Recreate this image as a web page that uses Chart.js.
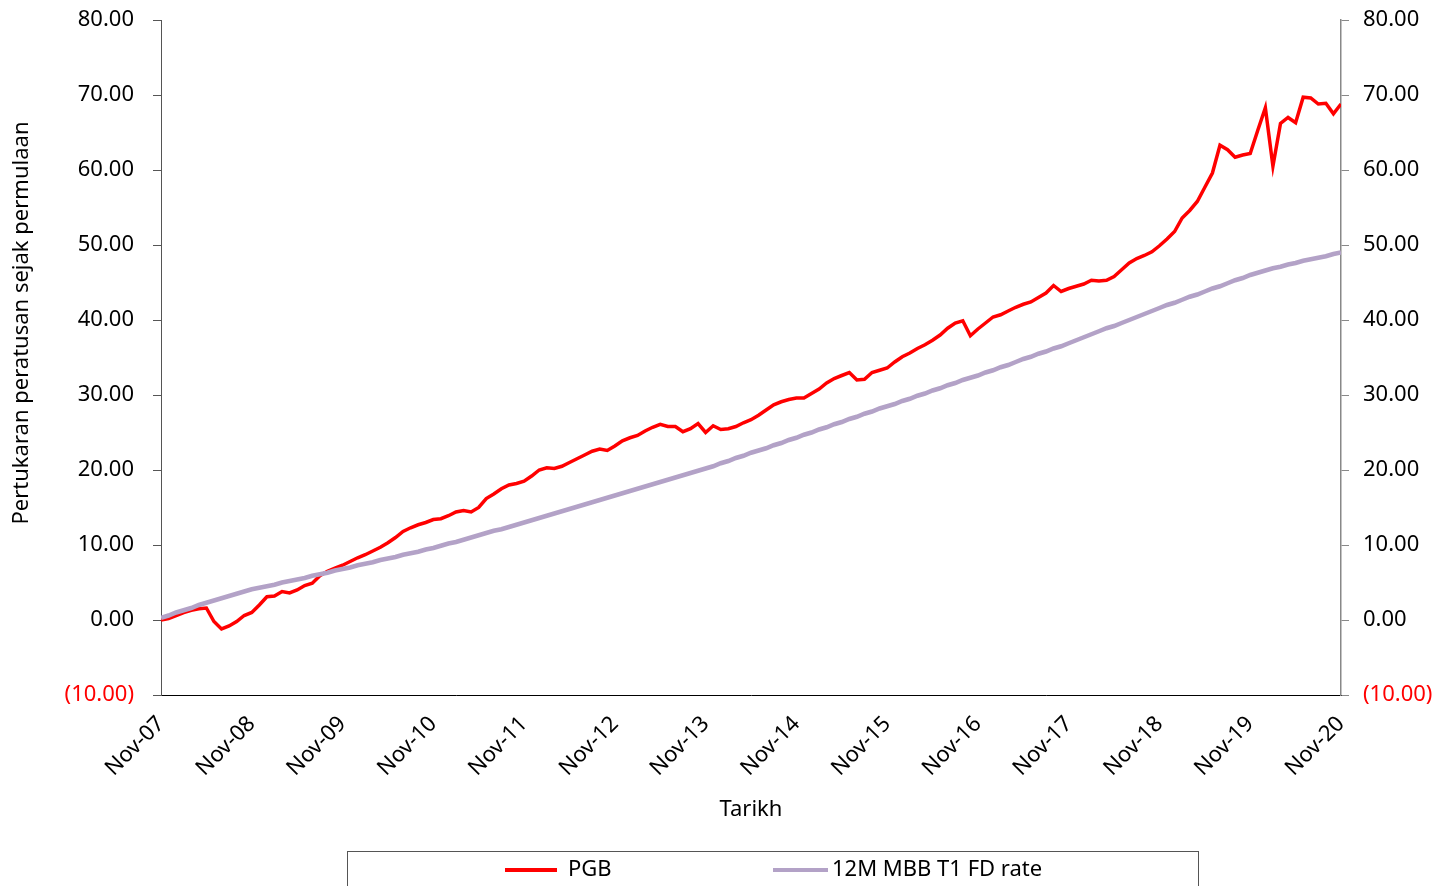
<!DOCTYPE html>
<html>
<head>
<meta charset="utf-8">
<script src="https://cdn.jsdelivr.net/npm/chart.js@4.4.1/dist/chart.umd.min.js"></script>
<style>
  html, body { margin: 0; padding: 0; background: #fff; }
  #wrap { width: 1451px; height: 886px; }
</style>
</head>
<body>
<div id="wrap"><canvas id="chart" width="1451" height="886"></canvas></div>
<script>
// x ticks, one per year (data is monthly, Nov-07 .. Nov-20)
var tickLabels = ['Nov-07', 'Nov-08', 'Nov-09', 'Nov-10', 'Nov-11', 'Nov-12', 'Nov-13',
  'Nov-14', 'Nov-15', 'Nov-16', 'Nov-17', 'Nov-18', 'Nov-19', 'Nov-20'];

var seriesNames = ['PGB', '12M MBB T1 FD rate'];
var yTitle = 'Pertukaran peratusan sejak permulaan';

// PGB, monthly % change since start
var pgb = [
  0.0, 0.2, 0.6, 1.0, 1.3, 1.5, 1.6, -0.2, -1.2, -0.8, -0.2, 0.6,
  1.0, 2.0, 3.1, 3.2, 3.8, 3.6, 4.0, 4.6, 4.9, 5.9, 6.5, 6.9,
  7.3, 7.8, 8.3, 8.7, 9.2, 9.7, 10.3, 11.0, 11.8, 12.3, 12.7, 13.0,
  13.4, 13.5, 13.9, 14.4, 14.6, 14.4, 15.0, 16.2, 16.8, 17.5, 18.0, 18.2,
  18.5, 19.2, 20.0, 20.3, 20.2, 20.5, 21.0, 21.5, 22.0, 22.5, 22.8, 22.6,
  23.2, 23.9, 24.3, 24.6, 25.2, 25.7, 26.1, 25.8, 25.8, 25.1, 25.5, 26.2,
  25.0, 25.9, 25.4, 25.5, 25.8, 26.3, 26.7, 27.3, 28.0, 28.7, 29.1, 29.4,
  29.6, 29.6, 30.2, 30.8, 31.6, 32.2, 32.6, 33.0, 32.0, 32.1, 33.0, 33.3,
  33.6, 34.4, 35.1, 35.6, 36.2, 36.7, 37.3, 38.0, 38.9, 39.6, 39.9, 37.9,
  38.8, 39.6, 40.4, 40.7, 41.2, 41.7, 42.1, 42.4, 43.0, 43.6, 44.6, 43.8,
  44.2, 44.5, 44.8, 45.3, 45.2, 45.3, 45.8, 46.7, 47.6, 48.2, 48.6, 49.1,
  49.9, 50.8, 51.8, 53.6, 54.6, 55.8, 57.7, 59.6, 63.3, 62.7, 61.7, 62.0,
  62.2, 65.3, 68.3, 60.5, 66.2, 67.0, 66.3, 69.7, 69.6, 68.8, 68.9, 67.5,
  68.8
];

// 12M MBB T1 FD rate, cumulative
var fdRate = [
  0.3, 0.6, 1.0, 1.3, 1.6, 2.0, 2.3, 2.6, 2.9, 3.2, 3.5, 3.8,
  4.1, 4.3, 4.5, 4.7, 5.0, 5.2, 5.4, 5.6, 5.9, 6.1, 6.3, 6.6,
  6.8, 7.0, 7.3, 7.5, 7.7, 8.0, 8.2, 8.4, 8.7, 8.9, 9.1, 9.4,
  9.6, 9.9, 10.2, 10.4, 10.7, 11.0, 11.3, 11.6, 11.9, 12.1, 12.4, 12.7,
  13.0, 13.3, 13.6, 13.9, 14.2, 14.5, 14.8, 15.1, 15.4, 15.7, 16.0, 16.3,
  16.6, 16.9, 17.2, 17.5, 17.8, 18.1, 18.4, 18.7, 19.0, 19.3, 19.6, 19.9,
  20.2, 20.5, 20.9, 21.2, 21.6, 21.9, 22.3, 22.6, 22.9, 23.3, 23.6, 24.0,
  24.3, 24.7, 25.0, 25.4, 25.7, 26.1, 26.4, 26.8, 27.1, 27.5, 27.8, 28.2,
  28.5, 28.8, 29.2, 29.5, 29.9, 30.2, 30.6, 30.9, 31.3, 31.6, 32.0, 32.3,
  32.6, 33.0, 33.3, 33.7, 34.0, 34.4, 34.8, 35.1, 35.5, 35.8, 36.2, 36.5,
  36.9, 37.3, 37.7, 38.1, 38.5, 38.9, 39.2, 39.6, 40.0, 40.4, 40.8, 41.2,
  41.6, 42.0, 42.3, 42.7, 43.1, 43.4, 43.8, 44.2, 44.5, 44.9, 45.3, 45.6,
  46.0, 46.3, 46.6, 46.9, 47.1, 47.4, 47.6, 47.9, 48.1, 48.3, 48.5, 48.8,
  49.0
];

var FONT = '"Noto Sans", "DejaVu Sans", sans-serif';
var FS = 22;

function toPoints(arr) {
  return arr.map(function(v, i) { return { x: i, y: v }; });
}

function fmt(v) {
  return v < 0 ? '(' + Math.abs(v).toFixed(2) + ')' : v.toFixed(2);
}

// y title (sits a bit above the axis centre) and framed legend at the bottom
var extras = {
  id: 'extras',
  afterDraw: function(chart) {
    var ctx = chart.ctx;
    ctx.save();
    ctx.font = FS + 'px ' + FONT;
    ctx.fillStyle = '#000';
    ctx.textAlign = 'center';
    ctx.textBaseline = 'middle';
    ctx.translate(22, 323);
    ctx.rotate(-Math.PI / 2);
    ctx.fillText(yTitle, 0, 0);
    ctx.restore();

    ctx.save();
    ctx.strokeStyle = '#555';
    ctx.lineWidth = 1;
    ctx.strokeRect(347.5, 851.5, 851, 60);
    var xs = [505, 773];
    var widths = [52, 55];
    ctx.font = FS + 'px ' + FONT;
    ctx.textBaseline = 'middle';
    ctx.fillStyle = '#000';
    chart.data.datasets.forEach(function(ds, i) {
      var y = 870;
      ctx.strokeStyle = ds.borderColor;
      ctx.lineWidth = 4;
      ctx.beginPath();
      ctx.moveTo(xs[i], y);
      ctx.lineTo(xs[i] + widths[i], y);
      ctx.stroke();
      ctx.fillText(ds.label, xs[i] + widths[i] + (i === 0 ? 11 : 4), y);
    });
    ctx.restore();
  }
};

var ctx = document.getElementById('chart').getContext('2d');
new Chart(ctx, {
  type: 'line',
  data: {
    datasets: [{
      label: seriesNames[0],
      data: toPoints(pgb),
      borderColor: '#ff0000',
      borderWidth: 3.5,
      pointRadius: 0,
      tension: 0,
      order: 2
    }, {
      label: seriesNames[1],
      data: toPoints(fdRate),
      borderColor: '#b3a2c7',
      borderWidth: 4.5,
      pointRadius: 0,
      tension: 0,
      order: 1
    }]
  },
  options: {
    responsive: false,
    animation: false,
    devicePixelRatio: 1,
    layout: { padding: { top: 20, bottom: 50, left: 0, right: 0 } },
    plugins: {
      legend: { display: false },
      tooltip: { enabled: false }
    },
    scales: {
      x: {
        type: 'linear',
        min: 0,
        max: 156,
        afterBuildTicks: function(scale) {
          scale.ticks = tickLabels.map(function(_, i) { return { value: i * 12 }; });
        },
        afterFit: function(scale) { scale.height = 141; },
        ticks: {
          autoSkip: false,
          maxRotation: 45,
          minRotation: 45,
          padding: 16,
          color: '#000',
          font: { family: FONT, size: FS },
          callback: function(v) { return tickLabels[v / 12]; }
        },
        grid: { display: false, drawTicks: false },
        border: { display: true, color: '#000', width: 1 },
        title: {
          display: true,
          text: 'Tarikh',
          color: '#000',
          font: { family: FONT, size: FS },
          padding: { top: 0, bottom: 13 }
        }
      },
      y: {
        position: 'left',
        min: -10,
        max: 80,
        afterFit: function(scale) { scale.width = 161; scale.paddingTop = 0; },
        ticks: {
          stepSize: 10,
          padding: 19,
          font: { family: FONT, size: FS },
          color: function(c) { return c.tick && c.tick.value < 0 ? '#ff0000' : '#000'; },
          callback: fmt
        },
        grid: { drawOnChartArea: false, drawTicks: true, tickLength: 8, color: '#555' },
        border: { display: true, color: '#555', width: 1 }
      },
      y2: {
        position: 'right',
        min: -10,
        max: 80,
        afterFit: function(scale) { scale.width = 110; scale.paddingTop = 0; },
        ticks: {
          stepSize: 10,
          padding: 14,
          font: { family: FONT, size: FS },
          color: function(c) { return c.tick && c.tick.value < 0 ? '#ff0000' : '#000'; },
          callback: fmt
        },
        grid: { drawOnChartArea: false, drawTicks: true, tickLength: 8, color: '#888' },
        border: { display: true, color: '#888', width: 1.5 }
      }
    }
  },
  plugins: [extras]
});
</script>
</body>
</html>
